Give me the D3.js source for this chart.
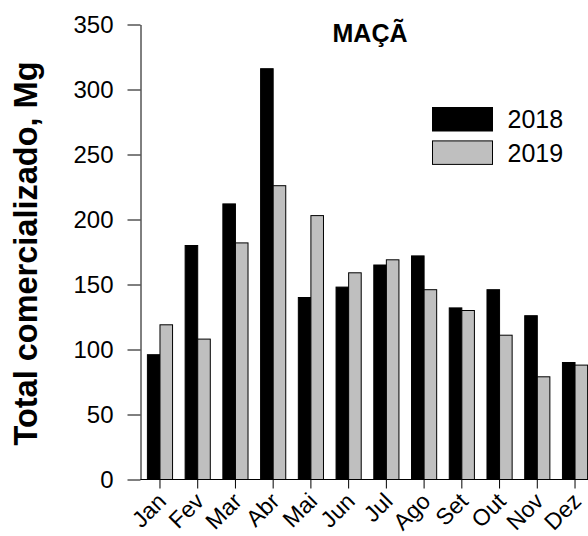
<!DOCTYPE html>
<html>
<head>
<meta charset="utf-8">
<script src="https://cdn.jsdelivr.net/npm/d3@7"></script>
<style>
  body { margin: 0; background: #fff; }
  text { font-family: "Liberation Sans", Arial, sans-serif; fill: #000; }
</style>
</head>
<body>
<script>
// dados
var meses = ["Jan", "Fev", "Mar", "Abr", "Mai", "Jun", "Jul", "Ago", "Set", "Out", "Nov", "Dez"];
var anos = ["2018", "2019"];
var valores2018 = [96, 180, 212, 316, 140, 148, 165, 172, 132, 146, 126, 90];
var valores2019 = [119, 108, 182, 226, 203, 159, 169, 146, 130, 111, 79, 88];
var yTicks = [0, 50, 100, 150, 200, 250, 300, 350];
var cores = { "2018": "#000000", "2019": "#bfbfbf" };

var width = 588, height = 536;

var svg = d3.select("body").append("svg")
    .attr("width", width)
    .attr("height", height);

// tabela com um registo por mes
var data = meses.map(function(m, i) {
    return { mes: m, "2018": valores2018[i], "2019": valores2019[i] };
});

var x = d3.scaleBand()
    .domain(meses)
    .range([147.4, 587.6])
    .paddingInner(1 / 3)
    .paddingOuter(0);

var x1 = d3.scaleBand()
    .domain(anos)
    .range([0, x.bandwidth()]);

var y = d3.scaleLinear()
    .domain([0, 350])
    .range([479.5, 24.5]);

// barras
var grupos = svg.selectAll(".grupo")
    .data(data)
    .enter().append("g")
    .attr("class", "grupo")
    .attr("transform", function(d) { return "translate(" + x(d.mes) + ",0)"; });

grupos.selectAll("rect")
    .data(function(d) { return anos.map(function(a) { return { ano: a, valor: d[a] }; }); })
    .enter().append("rect")
    .attr("x", function(d) { return x1(d.ano); })
    .attr("width", x1.bandwidth())
    .attr("y", function(d) { return y(d.valor); })
    .attr("height", function(d) { return y(0) - y(d.valor); })
    .attr("fill", function(d) { return cores[d.ano]; })
    .attr("stroke", "#000")
    .attr("stroke-width", 1);

// eixo y
var yAxis = d3.axisLeft(y)
    .tickValues(yTicks)
    .tickSize(13)
    .tickSizeOuter(0)
    .tickPadding(14);

svg.append("g")
    .attr("class", "y axis")
    .attr("transform", "translate(140.5,0)")
    .call(yAxis)
    .call(function(g) {
        g.selectAll("text").style("font-size", "24px").attr("dy", "0.35em");
        g.selectAll("line, path").attr("stroke", "#000");
    });

// linha do zero ao longo do eixo x
svg.append("line")
    .attr("x1", 140.5).attr("x2", width)
    .attr("y1", y(0)).attr("y2", y(0))
    .attr("stroke", "#000");

// eixo x, so os ticks
var xAxis = d3.axisBottom(x)
    .tickSize(9)
    .tickSizeOuter(0)
    .tickFormat("");

svg.append("g")
    .attr("class", "x axis")
    .attr("transform", "translate(0," + y(0) + ")")
    .call(xAxis)
    .call(function(g) {
        g.select(".domain").remove();
        g.selectAll("line").attr("stroke", "#000");
    });

// rotulos dos meses a 45 graus
svg.selectAll(".mes")
    .data(meses)
    .enter().append("text")
    .attr("class", "mes")
    .attr("text-anchor", "end")
    .attr("dominant-baseline", "central")
    .style("font-size", "23px")
    .attr("transform", function(d) {
        return "translate(" + (x(d) + x.bandwidth() / 2 + 2) + ",497) rotate(-45)";
    })
    .text(function(d) { return d; });

// titulo do eixo y
svg.append("text")
    .attr("text-anchor", "middle")
    .attr("transform", "translate(37,253.5) rotate(-90)")
    .style("font-size", "32.5px")
    .style("font-weight", "bold")
    .text("Total comercializado, Mg");

// titulo
svg.append("text")
    .attr("x", 370)
    .attr("y", 42.3)
    .attr("text-anchor", "middle")
    .style("font-size", "25px")
    .style("font-weight", "bold")
    .text("MAÇÃ");

// legenda
var legenda = svg.selectAll(".legenda")
    .data(anos)
    .enter().append("g")
    .attr("class", "legenda")
    .attr("transform", function(d, i) { return "translate(432.5," + (107.5 + i * 33.4) + ")"; });

legenda.append("rect")
    .attr("width", 60)
    .attr("height", 23.5)
    .attr("fill", function(d) { return cores[d]; })
    .attr("stroke", "#000")
    .attr("stroke-width", 1);

legenda.append("text")
    .attr("x", 75)
    .attr("y", 20.8)
    .style("font-size", "25px")
    .text(function(d) { return d; });
</script>
</body>
</html>
